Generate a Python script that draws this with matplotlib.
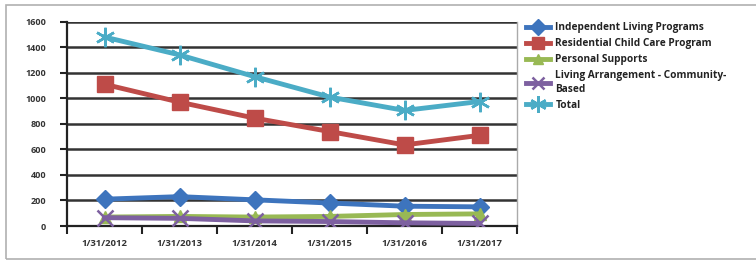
import matplotlib
matplotlib.use("Agg")
import matplotlib.pyplot as plt
from matplotlib.patches import Rectangle

categories = ["1/31/2012", "1/31/2013", "1/31/2014", "1/31/2015", "1/31/2016", "1/31/2017"]
independent = [210, 230, 205, 180, 155, 150]
residential = [1110, 970, 845, 740, 635, 710]
personal = [70, 75, 70, 75, 90, 95]
living = [65, 60, 40, 35, 25, 20]
total = [1480, 1340, 1170, 1010, 905, 975]
series_names = ["Independent Living Programs", "Residential Child Care Program",
                "Personal Supports", "Living Arrangement - Community-\nBased", "Total"]
yticks = [0, 200, 400, 600, 800, 1000, 1200, 1400, 1600]

plt.rcParams['font.family'] = ['Open Sans', 'DejaVu Sans']

fig = plt.figure(figsize=(7.56, 2.62), dpi=100)
ax = fig.add_axes([67/756, 1-226/262, 450/756, (226-21.7)/262])

x = list(range(len(categories)))
styles = [
    (independent, "#3d74bd", "D", 9, 3.5),
    (residential, "#be4b48", "s", 11, 3.5),
    (personal, "#98b954", "^", 8, 3.5),
    (living, "#7d60a0", "x", 11, 3.5),
    (total, "#4bacc6", (6, 2, 0), 14, 3.5),
]
for (vals, col, mk, ms, lw), name in zip(styles, series_names):
    ax.plot(x, vals, color=col, marker=mk, markersize=ms, linewidth=lw,
            markeredgewidth=1.8 if mk in ("x",) or isinstance(mk, tuple) else 1,
            markeredgecolor=col, label=name, zorder=3)

ax.set_xlim(-0.5, 5.5)
ax.set_ylim(0, 1600)
ax.set_yticks(yticks)
ax.set_yticklabels([str(v) for v in yticks], fontsize=6.5, fontweight='bold', color='#333333')
ax.set_xticks(x)
ax.set_xticklabels(categories, fontsize=6.8, fontweight='bold', color='#333333')
ax.set_xticks([i - 0.5 for i in range(7)], minor=True)
ax.tick_params(axis='x', which='major', length=0, pad=9)
ax.tick_params(axis='x', which='minor', length=6, width=1.5, color='#222222')
ax.tick_params(axis='y', length=5, width=1.5, color='#222222', pad=10)
for yv in yticks:
    ax.axhline(yv, color='#333333', linewidth=1.8, zorder=1)
for s in ['left', 'bottom']:
    ax.spines[s].set_color('#222222')
    ax.spines[s].set_linewidth(1.6)
ax.spines['top'].set_visible(False)
ax.spines['right'].set_color('#aaaaaa')
ax.spines['right'].set_linewidth(1)

leg = fig.legend(loc='upper left', bbox_to_anchor=(522/756, 1-18/262), frameon=False,
                 prop={'size': 7.3, 'weight': 'bold'}, handlelength=2.4, handletextpad=0.5,
                 labelspacing=0.5, borderaxespad=0, markerscale=0.85)
for t in leg.get_texts():
    t.set_linespacing(1.3)
    t.set_color('#222222')

fig.patches.append(Rectangle((6/756, 3/262), 760/756, 254/262, transform=fig.transFigure,
                             fill=False, edgecolor='#b0b0b0', linewidth=1.2))

fig.savefig("out.png", dpi=100)
